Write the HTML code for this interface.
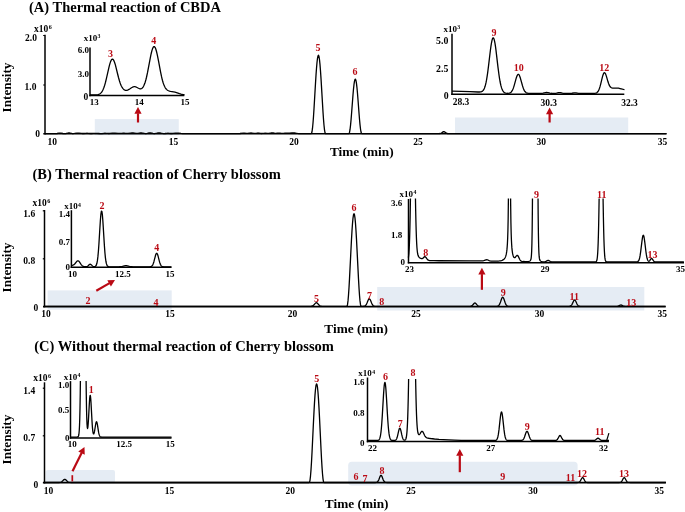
<!DOCTYPE html>
<html><head><meta charset="utf-8"><title>Chromatograms</title>
<style>html,body{margin:0;padding:0;background:#fff;width:685px;height:512px;overflow:hidden} text{font-family:"Liberation Serif",serif}</style>
</head><body>
<svg width="685" height="512" viewBox="0 0 685 512" style="display:block;font-family:'Liberation Serif', serif;filter:blur(0.3px)">
<defs><clipPath id="c1"><rect x="400" y="198.6" width="290" height="70"/></clipPath><clipPath id="c2"><rect x="60" y="381.1" width="120" height="70"/></clipPath><clipPath id="c3"><rect x="360" y="379.0" width="250" height="70"/></clipPath></defs>
<rect width="685" height="512" fill="#fff"/>
<text x="29.00" y="12.30" font-size="14.5" text-anchor="start" fill="#000" font-weight="bold" >(A) Thermal reaction of CBDA</text>
<rect x="94.80" y="119.10" width="83.95" height="16.10" fill="#E5ECF4" rx="0"/>
<rect x="455.00" y="117.50" width="173.20" height="16.40" fill="#E5ECF4" rx="0"/>
<polyline points="45.00,133.60 55.50,133.58 57.00,133.50 59.00,133.21 60.00,133.14 61.00,133.21 63.00,133.50 64.00,133.56 65.00,133.56 66.00,133.49 66.50,133.41 68.00,133.08 68.50,133.00 69.00,132.97 69.50,133.00 70.00,133.08 71.50,133.41 72.00,133.48 73.00,133.54 74.50,133.47 77.00,133.10 78.00,133.03 79.00,133.10 81.50,133.45 82.50,133.50 83.50,133.49 86.00,133.30 87.00,133.27 88.00,133.30 90.50,133.49 92.00,133.51 93.00,133.47 95.00,133.31 96.00,133.28 97.00,133.31 99.50,133.51 101.00,133.56 102.00,133.53 104.00,133.32 105.00,133.26 106.00,133.31 107.50,133.47 109.00,133.49 110.00,133.42 112.50,133.16 114.00,133.09 115.00,133.12 118.00,133.41 119.00,133.47 120.00,133.46 122.00,133.28 123.00,133.23 124.00,133.27 125.50,133.41 126.50,133.44 128.00,133.35 130.50,133.06 132.00,132.99 133.00,133.02 136.00,133.33 137.00,133.36 138.00,133.31 140.50,133.02 141.50,133.02 142.50,133.14 144.50,133.45 145.50,133.53 146.00,133.54 147.00,133.46 147.50,133.37 149.00,132.96 149.50,132.85 150.00,132.81 150.50,132.85 151.00,132.96 152.00,133.25 153.00,133.47 154.00,133.54 154.50,133.54 155.50,133.46 156.50,133.28 158.00,132.96 158.50,132.89 159.00,132.87 159.50,132.89 160.00,132.96 161.50,133.28 162.50,133.46 163.50,133.54 165.00,133.52 167.00,133.29 168.00,133.23 169.00,133.28 171.00,133.48 172.00,133.49 173.00,133.44 175.50,133.21 177.00,133.15 178.50,133.21 181.00,133.45 182.50,133.54 184.50,133.59 188.00,133.60 237.50,133.59 240.00,133.51 243.50,133.22 244.50,133.21 246.50,133.32 247.50,133.32 248.50,133.24 250.00,133.03 251.00,132.98 252.00,133.05 254.00,133.36 255.00,133.41 256.00,133.31 257.50,133.05 258.00,133.02 258.50,133.05 259.00,133.13 260.50,133.42 261.50,133.50 262.50,133.46 264.00,133.32 265.00,133.27 267.50,133.40 268.50,133.38 269.50,133.26 271.00,133.02 272.00,132.95 273.00,133.01 274.50,133.20 275.50,133.28 276.50,133.27 278.00,133.17 279.00,133.14 280.00,133.18 281.50,133.30 282.50,133.34 283.50,133.29 285.00,133.11 286.00,133.05 287.00,133.09 288.50,133.22 289.50,133.22 292.00,132.95 293.00,132.90 293.50,132.92 294.50,133.01 296.50,133.33 297.50,133.45 299.00,133.56 301.50,133.60 311.00,133.60 311.50,133.45 312.00,131.73 312.50,128.20 313.00,123.02 313.50,116.45 314.00,108.80 315.50,83.28 316.00,75.30 316.50,68.26 317.00,62.48 317.50,58.27 318.00,55.81 318.50,55.24 319.00,56.57 319.50,59.75 320.00,64.62 320.50,70.94 321.00,78.40 323.00,111.96 323.50,119.23 324.00,125.28 324.50,129.82 325.00,132.64 325.50,133.60 348.50,133.60 349.00,133.57 349.50,132.43 350.00,129.72 350.50,125.62 351.00,120.36 351.50,114.26 353.00,94.70 353.50,89.06 354.00,84.46 354.50,81.17 355.00,79.39 355.50,79.23 356.00,80.69 356.50,83.69 357.00,88.05 357.50,93.50 358.00,99.73 359.00,112.97 359.50,119.20 360.00,124.65 360.50,129.01 361.00,132.01 361.50,133.47 362.00,133.60 439.00,133.59 440.00,133.52 440.50,133.42 441.00,133.25 441.50,132.98 443.00,131.87 443.50,131.64 444.00,131.62 444.50,131.81 445.00,132.15 446.00,132.92 446.50,133.20 447.00,133.39 447.50,133.50 448.00,133.56 449.00,133.60 666.50,133.60" fill="none" stroke="#000" stroke-width="1.3" stroke-linejoin="round"/>
<line x1="45.00" y1="34.80" x2="45.00" y2="134.60" stroke="#000" stroke-width="1.5"/>
<line x1="43.30" y1="133.70" x2="666.50" y2="133.70" stroke="#000" stroke-width="1.6"/>
<line x1="43.20" y1="35.50" x2="45.00" y2="35.50" stroke="#000" stroke-width="1.2"/>
<line x1="43.20" y1="85.00" x2="45.00" y2="85.00" stroke="#000" stroke-width="1.2"/>
<text x="36.90" y="41.10" font-size="9.5" text-anchor="end" fill="#000" font-weight="bold" >2.0</text>
<text x="36.40" y="90.10" font-size="9.5" text-anchor="end" fill="#000" font-weight="bold" >1.0</text>
<text x="40.10" y="137.00" font-size="9.5" text-anchor="end" fill="#000" font-weight="bold" >0</text>
<text x="34.00" y="32.20" font-size="9.5" text-anchor="start" font-weight="bold">x10<tspan font-size="6.08" dy="-2.85" dx="0.4">6</tspan></text>
<text x="52.20" y="145.00" font-size="9.5" text-anchor="middle" fill="#000" font-weight="bold" >10</text>
<text x="173.50" y="145.00" font-size="9.5" text-anchor="middle" fill="#000" font-weight="bold" >15</text>
<text x="294.00" y="145.00" font-size="9.5" text-anchor="middle" fill="#000" font-weight="bold" >20</text>
<text x="418.00" y="145.00" font-size="9.5" text-anchor="middle" fill="#000" font-weight="bold" >25</text>
<text x="541.20" y="145.00" font-size="9.5" text-anchor="middle" fill="#000" font-weight="bold" >30</text>
<text x="662.50" y="145.00" font-size="9.5" text-anchor="middle" fill="#000" font-weight="bold" >35</text>
<text x="361.80" y="155.70" font-size="13.3" text-anchor="middle" fill="#000" font-weight="bold" >Time (min)</text>
<text x="0.00" y="0.00" font-size="13.2" text-anchor="middle" fill="#000" font-weight="bold" transform="translate(10.8,87.5) rotate(-90)">Intensity</text>
<text x="318.00" y="51.30" font-size="10" text-anchor="middle" fill="#BA0A14" font-weight="bold" >5</text>
<text x="355.00" y="75.10" font-size="10" text-anchor="middle" fill="#BA0A14" font-weight="bold" >6</text>
<line x1="138.00" y1="122.50" x2="138.00" y2="113.30" stroke="#BA0A14" stroke-width="2.2"/>
<polygon points="138.00,107.00 141.60,113.80 134.40,113.80" fill="#BA0A14"/>
<line x1="549.60" y1="122.50" x2="549.60" y2="113.80" stroke="#BA0A14" stroke-width="2.2"/>
<polygon points="549.60,107.50 553.20,114.30 546.00,114.30" fill="#BA0A14"/>
<polyline points="90.00,95.00 93.50,94.98 95.50,94.93 97.00,94.79 98.00,94.60 98.50,94.46 99.00,94.27 99.50,94.03 100.00,93.73 100.50,93.34 101.00,92.87 101.50,92.28 102.00,91.58 102.50,90.74 103.00,89.74 103.50,88.59 104.00,87.26 104.50,85.76 105.00,84.10 105.50,82.27 106.50,78.19 109.00,67.14 109.50,65.16 110.00,63.39 110.50,61.87 111.00,60.65 111.50,59.77 112.00,59.25 112.50,59.10 113.00,59.34 113.50,59.94 114.00,60.89 114.50,62.15 115.00,63.68 115.50,65.43 116.00,67.34 117.50,73.50 118.50,77.47 119.50,80.99 120.00,82.54 120.50,83.93 121.00,85.17 121.50,86.25 122.00,87.18 122.50,87.97 123.00,88.63 123.50,89.16 124.00,89.58 124.50,89.90 125.00,90.13 125.50,90.28 126.00,90.34 126.50,90.34 127.00,90.27 127.50,90.13 128.00,89.95 129.00,89.44 130.00,88.80 131.50,87.78 132.50,87.19 133.00,86.97 133.50,86.81 134.00,86.71 134.50,86.68 135.00,86.72 135.50,86.83 136.00,87.00 136.50,87.21 138.50,88.28 139.00,88.50 139.50,88.68 140.00,88.80 140.50,88.82 141.00,88.75 141.50,88.56 142.00,88.23 142.50,87.76 143.00,87.12 143.50,86.31 144.00,85.31 144.50,84.11 145.00,82.71 145.50,81.09 146.00,79.27 146.50,77.24 147.50,72.63 150.50,56.83 151.00,54.43 151.50,52.26 152.00,50.38 152.50,48.84 153.00,47.67 153.50,46.92 154.00,46.61 154.50,46.74 155.00,47.32 155.50,48.32 156.00,49.72 156.50,51.48 157.00,53.54 157.50,55.85 158.50,60.98 160.50,71.66 161.50,76.42 162.00,78.55 162.50,80.48 163.00,82.22 163.50,83.76 164.00,85.10 164.50,86.27 165.00,87.26 165.50,88.09 166.00,88.79 166.50,89.37 167.00,89.84 167.50,90.22 168.00,90.52 168.50,90.77 169.00,90.97 169.50,91.13 170.50,91.36 173.50,91.89 175.00,92.23 176.50,92.67 179.50,93.72 181.00,94.17 182.50,94.49 183.50,94.64 184.50,94.75" fill="none" stroke="#000" stroke-width="1.3" stroke-linejoin="round"/>
<line x1="90.00" y1="47.40" x2="90.00" y2="96.20" stroke="#000" stroke-width="1.5"/>
<line x1="89.30" y1="95.50" x2="184.30" y2="95.50" stroke="#000" stroke-width="1.5"/>
<text x="83.70" y="40.60" font-size="9" text-anchor="start" font-weight="bold">x10<tspan font-size="5.76" dy="-2.70" dx="0.4">3</tspan></text>
<text x="88.90" y="52.90" font-size="9" text-anchor="end" fill="#000" font-weight="bold" >6.0</text>
<text x="88.90" y="76.70" font-size="9" text-anchor="end" fill="#000" font-weight="bold" >3.0</text>
<text x="88.30" y="99.90" font-size="9.5" text-anchor="end" fill="#000" font-weight="bold" >0</text>
<text x="94.20" y="104.60" font-size="9" text-anchor="middle" fill="#000" font-weight="bold" >13</text>
<text x="139.20" y="104.60" font-size="9" text-anchor="middle" fill="#000" font-weight="bold" >14</text>
<text x="184.90" y="104.60" font-size="9" text-anchor="middle" fill="#000" font-weight="bold" >15</text>
<text x="110.60" y="56.60" font-size="10" text-anchor="middle" fill="#BA0A14" font-weight="bold" >3</text>
<text x="153.70" y="44.30" font-size="10" text-anchor="middle" fill="#BA0A14" font-weight="bold" >4</text>
<polyline points="452.00,91.10 470.00,91.69 478.00,92.00 479.50,92.01 480.50,91.93 481.00,91.83 481.50,91.68 482.00,91.44 482.50,91.11 483.00,90.63 483.50,89.98 484.00,89.12 484.50,88.01 485.00,86.59 485.50,84.83 486.00,82.70 486.50,80.16 487.00,77.22 487.50,73.88 488.00,70.19 488.50,66.20 490.00,53.52 490.50,49.52 491.00,45.88 491.50,42.77 492.00,40.33 492.50,38.67 493.00,37.87 493.50,37.97 494.00,38.98 494.50,40.83 495.00,43.45 495.50,46.71 496.00,50.46 498.00,67.35 499.00,75.02 499.50,78.33 500.00,81.25 500.50,83.76 501.00,85.88 501.50,87.63 502.00,89.04 502.50,90.16 503.00,91.04 503.50,91.70 504.00,92.20 504.50,92.56 505.00,92.83 505.50,93.01 506.00,93.14 507.00,93.27 508.00,93.28 509.00,93.17 509.50,93.05 510.00,92.86 510.50,92.59 511.00,92.20 511.50,91.68 512.00,90.98 512.50,90.08 513.00,88.97 513.50,87.64 514.00,86.10 514.50,84.39 516.00,78.90 516.50,77.26 517.00,75.91 517.50,74.93 518.00,74.39 518.50,74.34 519.00,74.78 519.50,75.68 520.00,76.97 520.50,78.55 522.50,85.77 523.00,87.35 523.50,88.72 524.00,89.88 524.50,90.82 525.00,91.55 525.50,92.11 526.00,92.53 526.50,92.82 527.00,93.03 527.50,93.17 528.00,93.26 529.00,93.35 530.50,93.39 538.50,93.40 541.00,93.37 542.00,93.31 543.00,93.18 545.50,92.62 546.50,92.50 547.00,92.51 547.50,92.56 548.00,92.64 550.00,93.11 551.00,93.27 552.00,93.35 553.00,93.38 554.50,93.37 555.50,93.30 556.50,93.16 558.50,92.71 559.00,92.64 559.50,92.60 560.00,92.62 560.50,92.68 562.50,93.12 563.50,93.28 564.50,93.36 565.50,93.39 568.50,93.40 570.50,93.36 572.00,93.24 574.00,92.96 575.00,92.90 576.00,92.96 578.50,93.29 580.50,93.39 593.00,93.39 594.50,93.33 595.50,93.19 596.00,93.05 596.50,92.85 597.00,92.54 597.50,92.09 598.00,91.48 598.50,90.65 599.00,89.58 599.50,88.25 600.00,86.65 600.50,84.82 602.00,78.57 602.50,76.61 603.00,74.94 603.50,73.67 604.00,72.90 604.50,72.68 605.00,73.02 605.50,73.86 606.00,75.12 606.50,76.67 608.00,81.81 608.50,83.32 609.00,84.61 609.50,85.67 610.00,86.49 610.50,87.10 611.00,87.52 611.50,87.80 612.00,87.97 612.50,88.06 613.50,88.11 616.50,88.06 617.50,88.11 618.50,88.21 620.00,88.52 622.50,89.22 623.50,89.42 624.50,89.54" fill="none" stroke="#000" stroke-width="1.3" stroke-linejoin="round"/>
<line x1="452.00" y1="33.80" x2="452.00" y2="94.90" stroke="#000" stroke-width="1.5"/>
<line x1="451.30" y1="94.20" x2="624.30" y2="94.20" stroke="#000" stroke-width="1.5"/>
<text x="443.40" y="31.60" font-size="9" text-anchor="start" font-weight="bold">x10<tspan font-size="5.76" dy="-2.70" dx="0.4">3</tspan></text>
<text x="448.30" y="43.60" font-size="9.8" text-anchor="end" fill="#000" font-weight="bold" >5.0</text>
<text x="448.30" y="71.80" font-size="9.8" text-anchor="end" fill="#000" font-weight="bold" >2.5</text>
<text x="448.60" y="99.20" font-size="9.8" text-anchor="end" fill="#000" font-weight="bold" >0</text>
<text x="461.00" y="104.50" font-size="9.5" text-anchor="middle" fill="#000" font-weight="bold" >28.3</text>
<text x="548.70" y="105.50" font-size="9.5" text-anchor="middle" fill="#000" font-weight="bold" >30.3</text>
<text x="629.50" y="105.60" font-size="9.5" text-anchor="middle" fill="#000" font-weight="bold" >32.3</text>
<text x="494.00" y="36.00" font-size="10" text-anchor="middle" fill="#BA0A14" font-weight="bold" >9</text>
<text x="518.80" y="71.00" font-size="10" text-anchor="middle" fill="#BA0A14" font-weight="bold" >10</text>
<text x="604.30" y="71.00" font-size="10" text-anchor="middle" fill="#BA0A14" font-weight="bold" >12</text>
<text x="32.50" y="179.10" font-size="14.48" text-anchor="start" fill="#000" font-weight="bold" >(B) Thermal reaction of Cherry blossom</text>
<rect x="47.60" y="290.40" width="124.10" height="19.30" fill="#E5ECF4" rx="0"/>
<rect x="377.20" y="287.00" width="267.10" height="23.50" fill="#E5ECF4" rx="0"/>
<polyline points="44.50,306.30 310.00,306.29 311.00,306.26 311.50,306.21 312.00,306.12 312.50,305.96 313.00,305.70 313.50,305.32 314.00,304.82 315.00,303.64 315.50,303.12 316.00,302.79 316.50,302.71 317.00,302.89 317.50,303.31 319.00,305.03 319.50,305.48 320.00,305.81 320.50,306.03 321.00,306.16 321.50,306.23 322.50,306.29 324.00,306.30 346.50,306.30 347.00,306.25 347.50,304.68 348.00,300.92 348.50,295.17 349.00,287.71 349.50,278.89 351.50,239.25 352.00,230.68 352.50,223.53 353.00,218.16 353.50,214.83 354.00,213.70 354.50,214.83 355.00,218.16 355.50,223.53 356.00,230.68 356.50,239.25 358.50,278.89 359.00,287.71 359.50,295.17 360.00,300.92 360.50,304.68 361.00,306.25 361.50,306.30 362.50,306.29 363.50,306.26 364.00,306.20 364.50,306.09 365.00,305.87 365.50,305.49 366.00,304.90 366.50,304.06 367.00,302.98 368.00,300.52 368.50,299.51 369.00,298.90 369.50,298.85 370.00,299.35 370.50,300.29 371.50,302.75 372.00,303.87 372.50,304.76 373.00,305.39 373.50,305.81 374.00,306.05 374.50,306.18 375.50,306.28 469.50,306.29 470.50,306.22 471.00,306.13 471.50,305.95 472.00,305.66 472.50,305.23 474.00,303.48 474.50,303.10 475.00,303.01 475.50,303.22 476.00,303.69 477.00,304.91 477.50,305.42 478.00,305.79 478.50,306.04 479.00,306.18 480.00,306.28 481.00,306.30 495.00,306.30 496.50,306.28 497.00,306.24 497.50,306.16 498.00,306.00 498.50,305.70 499.00,305.20 499.50,304.43 500.00,303.35 500.50,301.99 501.50,299.01 502.00,297.86 502.50,297.26 503.00,297.33 503.50,298.06 504.00,299.29 505.00,302.28 505.50,303.59 506.00,304.60 506.50,305.32 507.00,305.78 507.50,306.04 508.00,306.18 509.00,306.28 567.00,306.30 568.50,306.29 569.50,306.23 570.00,306.14 570.50,305.96 571.00,305.63 571.50,305.11 572.00,304.34 572.50,303.36 573.50,301.19 574.00,300.38 574.50,300.01 575.00,300.17 575.50,300.82 576.00,301.81 577.00,303.97 577.50,304.83 578.00,305.45 578.50,305.85 579.00,306.08 579.50,306.20 580.00,306.26 582.50,306.30 616.50,306.28 617.50,306.20 618.00,306.10 618.50,305.94 620.00,305.21 620.50,305.05 621.00,305.00 621.50,305.10 622.00,305.31 623.00,305.81 623.50,306.01 624.00,306.15 624.50,306.23 625.50,306.29 665.50,306.30" fill="none" stroke="#000" stroke-width="1.3" stroke-linejoin="round"/>
<line x1="44.50" y1="210.00" x2="44.50" y2="307.30" stroke="#000" stroke-width="1.5"/>
<line x1="43.00" y1="306.60" x2="665.70" y2="306.60" stroke="#000" stroke-width="1.6"/>
<line x1="42.80" y1="210.80" x2="44.50" y2="210.80" stroke="#000" stroke-width="1.2"/>
<line x1="42.80" y1="258.80" x2="44.50" y2="258.80" stroke="#000" stroke-width="1.2"/>
<text x="35.20" y="217.00" font-size="9.5" text-anchor="end" fill="#000" font-weight="bold" >1.6</text>
<text x="35.20" y="263.80" font-size="9.5" text-anchor="end" fill="#000" font-weight="bold" >0.8</text>
<text x="38.20" y="310.60" font-size="9.5" text-anchor="end" fill="#000" font-weight="bold" >0</text>
<text x="32.50" y="206.30" font-size="9.5" text-anchor="start" font-weight="bold">x10<tspan font-size="6.08" dy="-2.85" dx="0.4">6</tspan></text>
<text x="46.00" y="317.30" font-size="9.5" text-anchor="middle" fill="#000" font-weight="bold" >10</text>
<text x="170.00" y="317.30" font-size="9.5" text-anchor="middle" fill="#000" font-weight="bold" >15</text>
<text x="292.50" y="317.30" font-size="9.5" text-anchor="middle" fill="#000" font-weight="bold" >20</text>
<text x="416.00" y="317.30" font-size="9.5" text-anchor="middle" fill="#000" font-weight="bold" >25</text>
<text x="539.40" y="317.30" font-size="9.5" text-anchor="middle" fill="#000" font-weight="bold" >30</text>
<text x="662.20" y="317.30" font-size="9.5" text-anchor="middle" fill="#000" font-weight="bold" >35</text>
<text x="356.20" y="333.30" font-size="13.3" text-anchor="middle" fill="#000" font-weight="bold" >Time (min)</text>
<text x="0.00" y="0.00" font-size="13.2" text-anchor="middle" fill="#000" font-weight="bold" transform="translate(10.8,267.5) rotate(-90)">Intensity</text>
<text x="87.90" y="303.80" font-size="10" text-anchor="middle" fill="#BA0A14" font-weight="bold" >2</text>
<text x="156.00" y="305.50" font-size="10" text-anchor="middle" fill="#BA0A14" font-weight="bold" >4</text>
<text x="316.40" y="301.90" font-size="10" text-anchor="middle" fill="#BA0A14" font-weight="bold" >5</text>
<text x="353.90" y="210.90" font-size="10" text-anchor="middle" fill="#BA0A14" font-weight="bold" >6</text>
<text x="369.50" y="298.60" font-size="10" text-anchor="middle" fill="#BA0A14" font-weight="bold" >7</text>
<text x="381.80" y="304.60" font-size="10" text-anchor="middle" fill="#BA0A14" font-weight="bold" >8</text>
<text x="503.20" y="295.70" font-size="10" text-anchor="middle" fill="#BA0A14" font-weight="bold" >9</text>
<text x="574.30" y="300.00" font-size="10" text-anchor="middle" fill="#BA0A14" font-weight="bold" >11</text>
<text x="631.30" y="306.10" font-size="10" text-anchor="middle" fill="#BA0A14" font-weight="bold" >13</text>
<line x1="96.30" y1="290.80" x2="109.54" y2="283.15" stroke="#BA0A14" stroke-width="2.2"/>
<polygon points="115.00,280.00 110.91,286.52 107.31,280.28" fill="#BA0A14"/>
<line x1="481.90" y1="289.80" x2="481.90" y2="274.10" stroke="#BA0A14" stroke-width="2.2"/>
<polygon points="481.90,267.80 485.50,274.60 478.30,274.60" fill="#BA0A14"/>
<polyline points="71.40,265.47 72.40,265.33 72.90,265.19 73.40,264.97 73.90,264.67 74.40,264.26 74.90,263.74 76.40,261.86 76.90,261.31 77.40,260.94 77.90,260.80 78.40,260.91 78.90,261.29 79.40,261.86 80.90,264.13 81.40,264.81 81.90,265.39 82.40,265.85 82.90,266.19 83.40,266.42 83.90,266.58 84.40,266.68 85.40,266.75 85.90,266.74 86.40,266.69 86.90,266.57 87.40,266.34 87.90,266.00 89.40,264.54 89.90,264.25 90.40,264.22 90.90,264.47 91.40,264.91 92.40,265.91 92.90,266.28 93.40,266.52 93.90,266.64 94.40,266.66 94.90,266.58 95.40,266.34 95.90,265.83 96.40,264.89 96.90,263.26 97.40,260.63 97.90,256.68 98.40,251.23 98.90,244.29 99.90,227.78 100.40,220.02 100.90,214.13 101.40,211.08 101.90,211.43 102.40,215.11 102.90,221.46 104.40,245.78 104.90,252.44 105.40,257.59 105.90,261.25 106.40,263.66 106.90,265.13 107.40,265.96 107.90,266.41 108.40,266.63 108.90,266.73 109.90,266.79 116.90,266.80 119.40,266.76 120.40,266.69 121.40,266.56 122.40,266.35 124.40,265.80 125.40,265.62 125.90,265.60 126.40,265.62 127.40,265.80 129.40,266.35 130.40,266.56 131.40,266.69 132.40,266.76 134.90,266.80 148.90,266.79 149.90,266.76 150.40,266.70 150.90,266.60 151.40,266.39 151.90,266.04 152.40,265.45 152.90,264.56 153.40,263.31 153.90,261.70 155.40,255.79 155.90,254.25 156.40,253.35 156.90,253.27 157.40,254.01 157.90,255.44 159.40,261.33 159.90,263.02 160.40,264.34 160.90,265.30 161.40,265.94 161.90,266.34 162.40,266.57 162.90,266.69 163.40,266.75 164.90,266.80 171.40,266.80" fill="none" stroke="#000" stroke-width="1.3" stroke-linejoin="round"/>
<line x1="71.40" y1="210.20" x2="71.40" y2="268.00" stroke="#000" stroke-width="1.5"/>
<line x1="70.70" y1="267.30" x2="171.50" y2="267.30" stroke="#000" stroke-width="1.5"/>
<text x="64.20" y="209.20" font-size="9" text-anchor="start" font-weight="bold">x10<tspan font-size="5.76" dy="-2.70" dx="0.4">4</tspan></text>
<text x="70.00" y="217.40" font-size="9" text-anchor="end" fill="#000" font-weight="bold" >1.4</text>
<text x="70.00" y="244.70" font-size="9" text-anchor="end" fill="#000" font-weight="bold" >0.7</text>
<text x="70.00" y="270.30" font-size="9" text-anchor="end" fill="#000" font-weight="bold" >0</text>
<text x="72.50" y="277.10" font-size="9" text-anchor="middle" fill="#000" font-weight="bold" >10</text>
<text x="122.80" y="277.10" font-size="9" text-anchor="middle" fill="#000" font-weight="bold" >12.5</text>
<text x="169.90" y="277.10" font-size="9" text-anchor="middle" fill="#000" font-weight="bold" >15</text>
<text x="101.90" y="209.20" font-size="10" text-anchor="middle" fill="#BA0A14" font-weight="bold" >2</text>
<text x="156.80" y="251.00" font-size="10" text-anchor="middle" fill="#BA0A14" font-weight="bold" >4</text>
<polyline points="408.40,257.61 408.65,255.77 408.90,253.08 409.15,249.26 409.40,243.97 409.65,236.89 409.90,227.71 410.15,216.17 410.65,185.72 411.65,105.26 412.15,69.28 412.40,56.41 412.65,48.27 412.90,45.49 413.15,47.88 413.40,55.81 413.65,68.38 413.90,84.61 415.15,180.16 415.65,209.48 415.90,220.86 416.15,230.08 416.40,237.35 416.65,242.90 416.90,247.04 417.15,250.05 417.40,252.22 417.65,253.75 417.90,254.84 418.15,255.62 418.40,256.19 418.65,256.63 418.90,256.97 419.40,257.50 419.90,257.91 420.40,258.24 420.90,258.49 421.40,258.65 421.65,258.69 421.90,258.68 422.15,258.63 422.40,258.54 422.65,258.40 423.15,257.99 424.15,256.99 424.40,256.82 424.65,256.71 424.90,256.68 425.15,256.73 425.40,256.88 425.65,257.11 426.15,257.73 427.15,259.15 427.65,259.70 427.90,259.91 428.40,260.21 428.90,260.39 429.65,260.52 430.40,260.59 433.90,260.71 438.90,260.76 470.15,260.78 481.90,260.86 482.90,260.81 483.65,260.69 484.40,260.47 485.90,259.88 486.40,259.76 486.65,259.74 486.90,259.75 487.40,259.83 487.90,260.01 489.15,260.58 489.65,260.77 490.15,260.91 490.90,261.04 492.15,261.13 494.40,261.16 496.40,261.13 498.15,261.05 499.40,260.93 500.40,260.77 501.40,260.54 502.15,260.30 502.90,259.95 503.40,259.64 503.90,259.25 504.40,258.72 504.90,258.01 505.15,257.56 505.40,257.03 505.65,256.39 505.90,255.61 506.15,254.65 506.40,253.44 506.65,251.92 506.90,249.93 507.15,247.30 507.40,243.69 507.65,238.56 507.90,230.97 508.15,219.03 508.40,198.83 508.65,160.97 508.90,79.64 509.15,-124.09 509.40,-558.36 509.65,-467.21 509.90,-66.18 510.15,101.89 510.40,170.80 510.65,203.87 510.90,221.93 511.15,232.78 511.40,239.78 511.65,244.54 511.90,247.92 512.15,250.40 512.40,252.27 512.65,253.71 512.90,254.82 513.15,255.69 513.40,256.37 513.65,256.89 513.90,257.27 514.15,257.52 514.40,257.66 514.65,257.68 514.90,257.61 515.15,257.45 515.40,257.21 516.40,255.91 516.65,255.65 516.90,255.45 517.15,255.36 517.40,255.39 517.65,255.53 517.90,255.79 518.15,256.16 518.65,257.11 519.65,259.23 520.15,260.06 520.65,260.66 521.15,261.05 521.40,261.18 521.90,261.36 522.90,261.52 525.65,261.68 526.90,261.69 527.65,261.66 528.15,261.61 528.65,261.51 529.40,261.24 529.90,260.93 530.15,260.70 530.40,260.41 530.65,259.98 530.90,259.28 531.15,258.06 531.40,255.80 531.65,251.61 531.90,243.97 532.15,230.52 532.40,207.86 532.65,171.62 532.90,116.73 533.15,38.28 533.40,-67.16 533.65,-199.95 534.65,-839.69 534.90,-948.40 535.15,-1003.60 535.40,-997.34 535.65,-930.54 535.90,-812.74 536.90,-171.30 537.15,-43.80 537.40,56.10 537.65,129.49 537.90,180.24 538.15,213.38 538.40,233.88 538.65,245.95 538.90,252.74 539.15,256.45 539.40,258.45 539.65,259.54 539.90,260.18 540.15,260.58 540.40,260.86 540.65,261.08 540.90,261.25 541.40,261.51 542.15,261.73 543.15,261.86 544.15,261.87 544.65,261.82 545.15,261.72 545.90,261.43 547.40,260.60 547.90,260.46 548.15,260.45 548.40,260.48 548.90,260.65 550.40,261.49 551.15,261.76 551.65,261.86 552.15,261.92 553.40,261.95 594.90,261.98 595.40,261.95 595.90,261.82 596.15,261.66 596.40,261.38 596.65,260.89 596.90,260.08 597.15,258.79 597.40,256.77 597.65,253.76 597.90,249.41 598.15,243.36 598.40,235.28 598.65,224.90 598.90,212.10 599.15,196.98 600.15,125.76 600.40,110.64 600.65,99.12 600.90,92.23 601.15,90.60 601.40,94.38 601.65,103.23 601.90,116.32 603.15,203.29 603.40,217.51 603.65,229.34 603.90,238.78 604.15,246.01 604.40,251.33 604.65,255.10 604.90,257.68 605.15,259.38 605.40,260.46 605.65,261.12 605.90,261.51 606.15,261.73 606.40,261.86 606.90,261.96 607.65,261.99 635.65,261.99 636.65,261.94 637.15,261.85 637.65,261.67 637.90,261.52 638.15,261.31 638.40,261.03 638.65,260.65 638.90,260.16 639.15,259.53 639.40,258.74 639.65,257.76 639.90,256.59 640.15,255.21 640.65,251.86 641.90,241.57 642.40,238.04 642.65,236.72 642.90,235.78 643.15,235.28 643.40,235.23 643.65,235.65 643.90,236.50 644.15,237.75 644.40,239.33 644.90,243.20 645.90,251.49 646.40,254.91 646.65,256.33 646.90,257.54 647.15,258.55 647.40,259.36 647.65,260.01 647.90,260.50 648.15,260.86 648.40,261.10 648.65,261.22 648.90,261.24 649.15,261.17 649.40,261.01 649.65,260.76 649.90,260.44 650.90,258.96 651.15,258.69 651.40,258.53 651.65,258.50 651.90,258.59 652.15,258.80 652.40,259.10 653.40,260.65 653.90,261.26 654.15,261.48 654.40,261.65 654.65,261.77 654.90,261.86 655.40,261.95 656.15,261.99 657.15,262.00 683.90,262.00" fill="none" stroke="#000" stroke-width="1.3" stroke-linejoin="round" clip-path="url(#c1)"/>
<line x1="408.50" y1="199.00" x2="408.50" y2="263.40" stroke="#000" stroke-width="1.5"/>
<line x1="407.80" y1="262.70" x2="684.00" y2="262.70" stroke="#000" stroke-width="1.5"/>
<text x="399.50" y="197.10" font-size="9" text-anchor="start" font-weight="bold">x10<tspan font-size="5.76" dy="-2.70" dx="0.4">4</tspan></text>
<text x="402.20" y="206.20" font-size="9" text-anchor="end" fill="#000" font-weight="bold" >3.6</text>
<text x="402.20" y="237.50" font-size="9" text-anchor="end" fill="#000" font-weight="bold" >1.8</text>
<text x="405.00" y="265.30" font-size="9" text-anchor="end" fill="#000" font-weight="bold" >0</text>
<text x="409.60" y="272.20" font-size="9" text-anchor="middle" fill="#000" font-weight="bold" >23</text>
<text x="545.00" y="272.20" font-size="9" text-anchor="middle" fill="#000" font-weight="bold" >29</text>
<text x="680.60" y="272.20" font-size="9" text-anchor="middle" fill="#000" font-weight="bold" >35</text>
<text x="425.80" y="256.20" font-size="10" text-anchor="middle" fill="#BA0A14" font-weight="bold" >8</text>
<text x="536.50" y="197.70" font-size="10" text-anchor="middle" fill="#BA0A14" font-weight="bold" >9</text>
<text x="601.70" y="197.60" font-size="10" text-anchor="middle" fill="#BA0A14" font-weight="bold" >11</text>
<text x="652.60" y="257.60" font-size="10" text-anchor="middle" fill="#BA0A14" font-weight="bold" >13</text>
<text x="34.25" y="351.20" font-size="14.5" text-anchor="start" fill="#000" font-weight="bold" >(C) Without thermal reaction of Cherry blossom</text>
<rect x="45.80" y="470.00" width="69.20" height="13.00" fill="#E5ECF4" rx="2"/>
<rect x="348.20" y="461.80" width="229.40" height="23.60" fill="#E5ECF4" rx="3.5"/>
<polyline points="44.50,482.50 58.00,482.50 59.00,482.48 60.00,482.41 60.50,482.32 61.00,482.16 61.50,481.90 62.00,481.55 62.50,481.09 63.50,480.03 64.00,479.60 64.50,479.34 65.00,479.32 65.50,479.53 66.00,479.94 67.00,480.98 67.50,481.46 68.00,481.84 68.50,482.11 69.00,482.29 69.50,482.39 70.00,482.45 71.00,482.49 309.00,482.50 309.50,482.32 310.00,480.28 310.50,476.06 311.00,469.87 311.50,461.99 312.00,452.77 313.50,421.58 314.00,411.60 314.50,402.62 315.00,395.04 315.50,389.23 316.00,385.44 316.50,383.85 317.00,384.53 317.50,387.46 318.00,392.49 318.50,399.40 319.00,407.86 319.50,417.50 321.00,448.80 321.50,458.44 322.00,466.90 322.50,473.81 323.00,478.84 323.50,481.77 324.00,482.50 374.00,482.50 375.50,482.48 376.00,482.45 376.50,482.36 377.00,482.18 377.50,481.84 378.00,481.26 378.50,480.38 379.00,479.20 380.00,476.58 380.50,475.64 381.00,475.30 381.50,475.64 382.00,476.58 383.00,479.20 383.50,480.38 384.00,481.26 384.50,481.84 385.00,482.18 385.50,482.36 386.00,482.45 387.00,482.49 577.50,482.48 578.00,482.46 578.50,482.38 579.00,482.22 579.50,481.92 580.00,481.41 580.50,480.66 581.50,478.76 582.00,477.98 582.50,477.61 583.00,477.77 583.50,478.41 584.50,480.30 585.00,481.14 585.50,481.74 586.00,482.12 586.50,482.33 587.00,482.43 587.50,482.48 589.50,482.50 618.00,482.50 619.00,482.49 620.00,482.40 620.50,482.27 621.00,482.00 621.50,481.53 622.00,480.83 623.00,478.94 623.50,478.11 624.00,477.64 624.50,477.70 625.00,478.25 626.50,480.99 627.00,481.64 627.50,482.06 628.00,482.30 628.50,482.42 629.00,482.47 630.50,482.50 666.00,482.50" fill="none" stroke="#000" stroke-width="1.3" stroke-linejoin="round"/>
<line x1="44.50" y1="382.30" x2="44.50" y2="483.50" stroke="#000" stroke-width="1.5"/>
<line x1="42.90" y1="482.60" x2="665.80" y2="482.60" stroke="#000" stroke-width="1.6"/>
<line x1="42.80" y1="388.20" x2="44.50" y2="388.20" stroke="#000" stroke-width="1.2"/>
<line x1="42.80" y1="435.80" x2="44.50" y2="435.80" stroke="#000" stroke-width="1.2"/>
<text x="35.20" y="394.00" font-size="9.5" text-anchor="end" fill="#000" font-weight="bold" >1.4</text>
<text x="35.20" y="440.50" font-size="9.5" text-anchor="end" fill="#000" font-weight="bold" >0.7</text>
<text x="38.20" y="487.90" font-size="9.5" text-anchor="end" fill="#000" font-weight="bold" >0</text>
<text x="33.30" y="381.30" font-size="9.5" text-anchor="start" font-weight="bold">x10<tspan font-size="6.08" dy="-2.85" dx="0.4">6</tspan></text>
<text x="48.60" y="494.40" font-size="9.5" text-anchor="middle" fill="#000" font-weight="bold" >10</text>
<text x="169.60" y="494.40" font-size="9.5" text-anchor="middle" fill="#000" font-weight="bold" >15</text>
<text x="290.20" y="494.40" font-size="9.5" text-anchor="middle" fill="#000" font-weight="bold" >20</text>
<text x="410.90" y="494.40" font-size="9.5" text-anchor="middle" fill="#000" font-weight="bold" >25</text>
<text x="533.10" y="494.40" font-size="9.5" text-anchor="middle" fill="#000" font-weight="bold" >30</text>
<text x="659.20" y="494.40" font-size="9.5" text-anchor="middle" fill="#000" font-weight="bold" >35</text>
<text x="356.70" y="507.60" font-size="13.3" text-anchor="middle" fill="#000" font-weight="bold" >Time (min)</text>
<text x="0.00" y="0.00" font-size="13.2" text-anchor="middle" fill="#000" font-weight="bold" transform="translate(10.8,439.6) rotate(-90)">Intensity</text>
<line x1="72.30" y1="475.20" x2="72.30" y2="481.40" stroke="#BA0A14" stroke-width="1.7"/>
<text x="356.00" y="479.80" font-size="10" text-anchor="middle" fill="#BA0A14" font-weight="bold" >6</text>
<text x="365.10" y="481.90" font-size="10" text-anchor="middle" fill="#BA0A14" font-weight="bold" >7</text>
<text x="382.00" y="473.70" font-size="10" text-anchor="middle" fill="#BA0A14" font-weight="bold" >8</text>
<text x="502.80" y="480.20" font-size="10" text-anchor="middle" fill="#BA0A14" font-weight="bold" >9</text>
<text x="570.50" y="481.00" font-size="10" text-anchor="middle" fill="#BA0A14" font-weight="bold" >11</text>
<text x="581.90" y="477.00" font-size="10" text-anchor="middle" fill="#BA0A14" font-weight="bold" >12</text>
<text x="623.90" y="476.60" font-size="10" text-anchor="middle" fill="#BA0A14" font-weight="bold" >13</text>
<text x="316.80" y="382.30" font-size="10" text-anchor="middle" fill="#BA0A14" font-weight="bold" >5</text>
<line x1="72.50" y1="471.30" x2="81.71" y2="452.65" stroke="#BA0A14" stroke-width="2.2"/>
<polygon points="84.50,447.00 84.72,454.69 78.26,451.50" fill="#BA0A14"/>
<line x1="459.80" y1="472.20" x2="459.80" y2="455.30" stroke="#BA0A14" stroke-width="2.2"/>
<polygon points="459.80,449.00 463.40,455.80 456.20,455.80" fill="#BA0A14"/>
<polyline points="70.50,437.10 76.25,437.10 77.25,437.07 77.75,436.96 78.00,436.81 78.25,436.52 78.50,435.98 78.75,435.00 79.00,433.31 79.25,430.48 79.50,425.93 79.75,418.87 80.00,408.33 80.25,393.20 80.50,372.36 80.75,344.78 81.00,309.84 81.25,267.49 82.50,7.55 82.75,-30.32 83.00,-54.62 83.25,-63.00 83.50,-54.62 83.75,-30.32 84.00,7.55 85.25,267.46 85.50,309.77 85.75,344.66 86.00,372.13 86.25,392.79 86.50,407.60 86.75,417.63 87.00,423.91 87.25,427.31 87.50,428.49 87.75,427.94 88.00,426.02 88.25,422.98 88.50,419.08 89.25,405.14 89.50,401.01 89.75,397.82 90.00,395.89 90.25,395.43 90.50,396.49 90.75,398.97 91.00,402.59 92.00,421.02 92.25,424.92 92.50,428.12 92.75,430.59 93.00,432.33 93.25,433.41 93.50,433.90 93.75,433.88 94.00,433.41 94.25,432.57 94.50,431.41 94.75,430.00 95.50,425.23 95.75,423.84 96.00,422.74 96.25,422.04 96.50,421.80 96.75,422.04 97.00,422.75 97.25,423.85 97.50,425.24 98.50,431.59 98.75,432.89 99.00,433.99 99.25,434.88 99.50,435.56 99.75,436.07 100.00,436.43 100.25,436.68 100.50,436.84 101.00,437.01 101.75,437.09 103.00,437.10 171.50,437.10" fill="none" stroke="#000" stroke-width="1.3" stroke-linejoin="round" clip-path="url(#c2)"/>
<line x1="70.50" y1="381.10" x2="70.50" y2="438.70" stroke="#000" stroke-width="1.5"/>
<line x1="69.80" y1="438.00" x2="171.50" y2="438.00" stroke="#000" stroke-width="1.5"/>
<text x="63.70" y="379.80" font-size="9" text-anchor="start" font-weight="bold">x10<tspan font-size="5.76" dy="-2.70" dx="0.4">4</tspan></text>
<text x="69.20" y="388.20" font-size="9" text-anchor="end" fill="#000" font-weight="bold" >1.0</text>
<text x="69.20" y="413.40" font-size="9" text-anchor="end" fill="#000" font-weight="bold" >0.5</text>
<text x="69.60" y="441.00" font-size="9" text-anchor="end" fill="#000" font-weight="bold" >0</text>
<text x="72.30" y="447.00" font-size="9" text-anchor="middle" fill="#000" font-weight="bold" >10</text>
<text x="124.20" y="447.00" font-size="9" text-anchor="middle" fill="#000" font-weight="bold" >12.5</text>
<text x="170.20" y="447.00" font-size="9" text-anchor="middle" fill="#000" font-weight="bold" >15</text>
<text x="91.30" y="392.50" font-size="10" text-anchor="middle" fill="#BA0A14" font-weight="bold" >1</text>
<polyline points="367.50,440.50 376.50,440.49 377.50,440.44 378.00,440.35 378.50,440.15 378.75,439.99 379.00,439.75 379.25,439.43 379.50,438.98 379.75,438.39 380.00,437.61 380.25,436.61 380.50,435.33 380.75,433.75 381.00,431.82 381.25,429.51 381.50,426.80 381.75,423.69 382.25,416.35 383.50,395.02 384.00,387.99 384.25,385.39 384.50,383.55 384.75,382.56 385.00,382.47 385.25,383.28 385.50,384.96 385.75,387.42 386.00,390.56 386.50,398.31 387.25,411.37 387.75,419.45 388.25,426.21 388.50,429.00 388.75,431.39 389.00,433.39 389.25,435.04 389.50,436.37 389.75,437.43 390.00,438.25 390.25,438.88 390.50,439.35 390.75,439.69 391.00,439.95 391.25,440.12 391.50,440.25 392.00,440.39 392.50,440.46 393.25,440.49 394.25,440.47 394.75,440.42 395.25,440.28 395.50,440.17 395.75,440.00 396.00,439.77 396.25,439.45 396.50,439.03 396.75,438.50 397.00,437.84 397.50,436.12 398.50,431.66 399.00,429.65 399.25,428.91 399.50,428.41 399.75,428.21 400.00,428.30 400.25,428.68 400.50,429.32 400.75,430.19 401.00,431.22 401.75,434.65 402.25,436.69 402.50,437.54 402.75,438.25 403.00,438.83 403.25,439.29 403.50,439.64 403.75,439.89 404.00,440.07 404.25,440.17 404.50,440.22 404.75,440.20 405.00,440.11 405.25,439.94 405.50,439.65 405.75,439.20 406.00,438.52 406.25,437.53 406.50,436.11 406.75,434.11 407.00,431.36 407.25,427.65 407.50,422.73 407.75,416.36 408.00,408.25 408.25,398.15 408.50,385.84 409.00,353.98 409.50,312.64 410.50,213.11 411.00,166.89 411.25,147.98 411.50,133.08 411.75,122.90 412.00,117.95 412.25,118.48 412.50,124.47 412.75,135.61 413.00,151.33 413.50,193.35 414.75,316.09 415.25,355.95 415.50,372.25 415.75,386.07 416.00,397.53 416.25,406.83 416.50,414.22 416.75,419.98 417.00,424.37 417.25,427.67 417.50,430.08 417.75,431.81 418.00,433.01 418.25,433.81 418.50,434.31 418.75,434.57 419.00,434.66 419.25,434.60 419.50,434.43 419.75,434.16 420.00,433.83 421.00,432.21 421.25,431.86 421.50,431.57 421.75,431.38 422.00,431.29 422.25,431.31 422.50,431.46 422.75,431.72 423.00,432.09 423.50,433.04 424.50,435.20 425.00,436.11 425.25,436.49 425.75,437.08 426.00,437.30 426.50,437.63 427.00,437.84 427.75,438.05 428.75,438.24 430.50,438.51 434.50,439.01 439.00,439.42 443.50,439.71 448.75,439.96 454.50,440.14 461.25,440.28 474.25,440.41 493.00,440.48 494.75,440.45 495.25,440.41 495.75,440.31 496.25,440.08 496.50,439.88 496.75,439.61 497.00,439.23 497.25,438.73 497.50,438.07 497.75,437.23 498.00,436.18 498.25,434.90 498.50,433.38 499.00,429.63 500.00,420.36 500.50,416.07 500.75,414.37 501.00,413.08 501.25,412.27 501.50,412.00 501.75,412.27 502.00,413.08 502.25,414.37 502.50,416.07 503.00,420.36 504.00,429.63 504.50,433.39 504.75,434.91 505.00,436.19 505.25,437.24 505.50,438.08 505.75,438.74 506.00,439.24 506.25,439.62 506.50,439.89 506.75,440.09 507.25,440.32 508.00,440.45 509.00,440.49 519.75,440.49 521.25,440.44 521.75,440.37 522.25,440.21 522.75,439.93 523.00,439.72 523.25,439.45 523.50,439.11 523.75,438.70 524.00,438.20 524.50,436.99 525.50,434.00 526.00,432.62 526.25,432.06 526.50,431.65 526.75,431.39 527.00,431.30 527.25,431.39 527.50,431.65 527.75,432.06 528.00,432.62 528.50,434.00 529.50,436.99 530.00,438.20 530.50,439.11 530.75,439.45 531.00,439.72 531.25,439.93 531.50,440.09 532.00,440.30 532.75,440.44 533.50,440.49 534.75,440.50 553.50,440.50 555.00,440.48 555.75,440.41 556.25,440.28 556.50,440.17 556.75,440.02 557.00,439.82 557.25,439.57 557.50,439.25 558.00,438.44 558.75,436.97 559.25,436.09 559.50,435.77 559.75,435.57 560.00,435.50 560.25,435.57 560.50,435.77 560.75,436.09 561.25,436.97 562.00,438.44 562.50,439.25 562.75,439.57 563.00,439.82 563.25,440.02 563.50,440.17 564.00,440.36 564.50,440.44 565.25,440.49 566.75,440.50 592.00,440.50 593.75,440.46 594.50,440.35 595.00,440.19 595.25,440.07 595.50,439.93 596.00,439.55 596.75,438.87 597.25,438.47 597.50,438.32 597.75,438.23 598.00,438.20 598.25,438.23 598.50,438.32 598.75,438.47 599.25,438.87 600.00,439.55 600.50,439.93 601.00,440.19 601.50,440.35 602.25,440.46 603.00,440.49 609.00,440.50" fill="none" stroke="#000" stroke-width="1.3" stroke-linejoin="round" clip-path="url(#c3)"/>
<line x1="606.50" y1="441.20" x2="608.90" y2="433.20" stroke="#000" stroke-width="1.2"/>
<line x1="367.50" y1="377.50" x2="367.50" y2="442.30" stroke="#000" stroke-width="1.5"/>
<line x1="366.80" y1="441.60" x2="608.90" y2="441.60" stroke="#000" stroke-width="1.5"/>
<text x="358.30" y="376.30" font-size="9" text-anchor="start" font-weight="bold">x10<tspan font-size="5.76" dy="-2.70" dx="0.4">4</tspan></text>
<text x="364.60" y="385.00" font-size="9" text-anchor="end" fill="#000" font-weight="bold" >1.6</text>
<text x="364.60" y="416.20" font-size="9" text-anchor="end" fill="#000" font-weight="bold" >0.8</text>
<text x="364.60" y="445.60" font-size="9" text-anchor="end" fill="#000" font-weight="bold" >0</text>
<text x="372.40" y="451.00" font-size="9" text-anchor="middle" fill="#000" font-weight="bold" >22</text>
<text x="490.80" y="451.20" font-size="9" text-anchor="middle" fill="#000" font-weight="bold" >27</text>
<text x="603.40" y="450.70" font-size="9" text-anchor="middle" fill="#000" font-weight="bold" >32</text>
<text x="385.60" y="380.40" font-size="10" text-anchor="middle" fill="#BA0A14" font-weight="bold" >6</text>
<text x="400.30" y="427.00" font-size="10" text-anchor="middle" fill="#BA0A14" font-weight="bold" >7</text>
<text x="413.00" y="375.90" font-size="10" text-anchor="middle" fill="#BA0A14" font-weight="bold" >8</text>
<text x="527.30" y="430.40" font-size="10" text-anchor="middle" fill="#BA0A14" font-weight="bold" >9</text>
<text x="599.70" y="435.40" font-size="10" text-anchor="middle" fill="#BA0A14" font-weight="bold" >11</text>
</svg>
</body></html>
